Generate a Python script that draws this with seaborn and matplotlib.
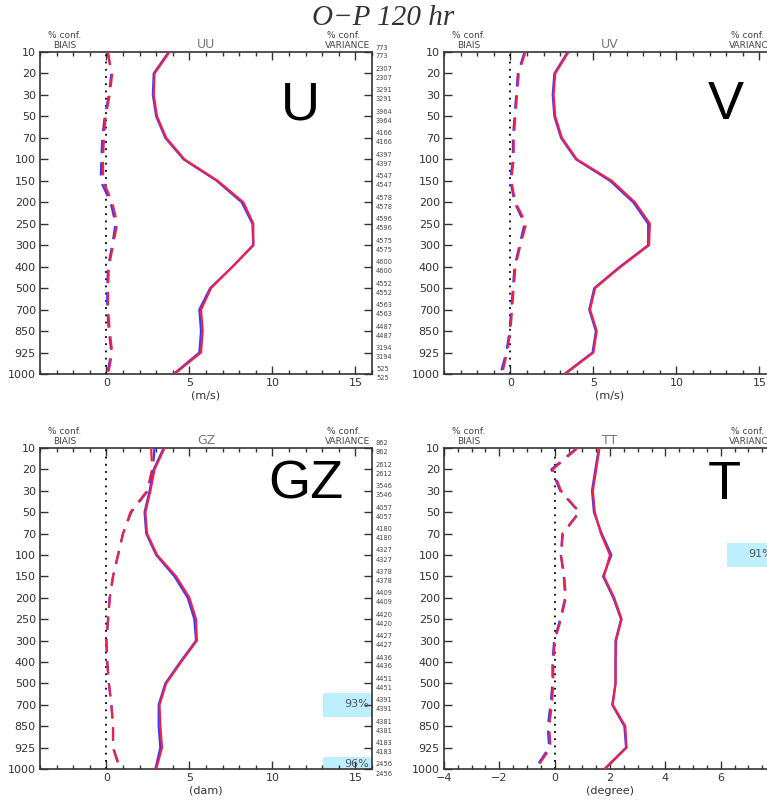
import numpy as np
import pandas as pd
import matplotlib
matplotlib.use("Agg")
import matplotlib.pyplot as plt
import matplotlib.transforms as mtransforms
from matplotlib.ticker import MultipleLocator
from matplotlib.patches import Rectangle
import seaborn as sns

# ---------------- data ----------------
levels = [10, 20, 30, 50, 70, 100, 150, 200, 250, 300, 400, 500, 700, 850, 925, 1000]

uu_std_blue = [3.75, 2.85, 2.8, 3.0, 3.55, 4.65, 6.65, 8.15, 8.8, 8.85, 7.6, 6.25, 5.6, 5.7, 5.6, 4.05]
uu_std_red = [3.8, 2.9, 2.85, 3.05, 3.6, 4.7, 6.7, 8.25, 8.85, 8.85, 7.6, 6.3, 5.7, 5.8, 5.7, 4.1]
uu_bias_blue = [0.1, 0.3, 0.15, -0.1, -0.25, -0.3, -0.35, 0.25, 0.55, 0.35, 0.1, 0.05, 0.05, 0.15, 0.3, 0.05]
uu_bias_red = [0.05, 0.35, 0.2, -0.05, -0.15, -0.2, -0.2, 0.35, 0.65, 0.4, 0.15, 0.1, 0.1, 0.2, 0.35, 0.1]
uu_counts = [773, 2307, 3291, 3964, 4166, 4397, 4547, 4578, 4596, 4575, 4600, 4552, 4563, 4487, 3194, 525]

uv_std_blue = [3.45, 2.65, 2.55, 2.65, 3.05, 3.95, 6.0, 7.4, 8.3, 8.3, 6.6, 5.05, 4.75, 5.15, 4.95, 3.25]
uv_std_red = [3.5, 2.7, 2.6, 2.7, 3.1, 4.0, 6.1, 7.5, 8.4, 8.35, 6.65, 5.1, 4.8, 5.2, 5.0, 3.3]
uv_bias_blue = [0.85, 0.45, 0.35, 0.25, 0.15, 0.15, 0.0, 0.25, 0.85, 0.55, 0.25, 0.15, 0.05, -0.05, -0.25, -0.6]
uv_bias_red = [0.9, 0.5, 0.4, 0.3, 0.2, 0.2, 0.05, 0.3, 0.95, 0.6, 0.3, 0.2, 0.1, 0.0, -0.2, -0.5]

gz_std_blue = [3.45, 2.85, 2.6, 2.3, 2.4, 3.0, 4.1, 4.9, 5.3, 5.4, 4.45, 3.55, 3.15, 3.15, 3.25, 2.95]
gz_std_red = [3.5, 2.9, 2.65, 2.35, 2.45, 3.05, 4.2, 5.0, 5.4, 5.45, 4.5, 3.6, 3.2, 3.25, 3.35, 3.0]
gz_bias_blue = [2.9, 2.8, 2.5, 1.5, 1.0, 0.7, 0.4, 0.2, 0.1, 0.0, 0.05, 0.15, 0.3, 0.4, 0.4, 0.8]
gz_bias_red = [2.7, 2.75, 2.45, 1.45, 1.0, 0.7, 0.4, 0.2, 0.1, 0.0, 0.05, 0.15, 0.3, 0.4, 0.4, 0.85]
gz_counts = [862, 2612, 3546, 4057, 4180, 4327, 4378, 4409, 4420, 4427, 4436, 4451, 4391, 4381, 4183, 2456]

tt_std_blue = [1.6, 1.47, 1.35, 1.42, 1.7, 2.05, 1.75, 2.12, 2.4, 2.2, 2.2, 2.2, 2.08, 2.52, 2.58, 1.8]
tt_std_red = [1.62, 1.5, 1.38, 1.45, 1.67, 2.0, 1.78, 2.15, 2.42, 2.22, 2.2, 2.2, 2.1, 2.55, 2.6, 1.82]
tt_bias_blue = [0.8, -0.12, 0.2, 0.88, 0.28, 0.22, 0.33, 0.38, 0.2, -0.02, -0.08, -0.08, -0.15, -0.25, -0.2, -0.72]
tt_bias_red = [0.83, -0.07, 0.23, 0.9, 0.3, 0.23, 0.35, 0.4, 0.23, 0.0, -0.05, -0.05, -0.1, -0.2, -0.15, -0.68]

gz_conf_levels = [700, 1000]
gz_conf_labels = ["93%", "96%"]
tt_conf_levels = [100]
tt_conf_labels = ["91%"]

# ---------------- style ----------------
sns.set_style("ticks")
plt.rcParams["font.family"] = ["DejaVu Sans"]
BLUE = "#3a3aff"
RED = "#f0204a"
GREY = "#444444"

W, H = 767, 802
fig = plt.figure(figsize=(W / 100, H / 100), dpi=100)


def rect(x0, y0, x1, y1):
    return [x0 / W, 1 - y1 / H, (x1 - x0) / W, (y1 - y0) / H]


panels = [
    dict(title="UU", big="U", r=rect(40, 52, 372, 374), xlim=(-4, 16), major=5, minor=1,
         xlabel="(m/s)", sb=uu_std_blue, sr=uu_std_red, bb=uu_bias_blue, br=uu_bias_red,
         counts=uu_counts, conf=([], []), bigpos=(0.783, 0.835)),
    dict(title="UV", big="V", r=rect(444, 52, 776, 374), xlim=(-4, 16), major=5, minor=1,
         xlabel="(m/s)", sb=uv_std_blue, sr=uv_std_red, bb=uv_bias_blue, br=uv_bias_red,
         counts=[], conf=([], []), bigpos=(0.849, 0.835)),
    dict(title="GZ", big="GZ", r=rect(40, 448, 372, 769), xlim=(-4, 16), major=5, minor=1,
         xlabel="(dam)", sb=gz_std_blue, sr=gz_std_red, bb=gz_bias_blue, br=gz_bias_red,
         counts=gz_counts, conf=(gz_conf_levels, gz_conf_labels), bigpos=(0.80, 0.885)),
    dict(title="TT", big="T", r=rect(444, 448, 776, 769), xlim=(-4, 8), major=2, minor=0.5,
         xlabel="(degree)", sb=tt_std_blue, sr=tt_std_red, bb=tt_bias_blue, br=tt_bias_red,
         counts=[], conf=(tt_conf_levels, tt_conf_labels), bigpos=(0.843, 0.885)),
]

idx = list(range(len(levels)))

for p in panels:
    ax = fig.add_axes(p["r"])
    df = pd.DataFrame({"lev": idx, "sb": p["sb"], "sr": p["sr"], "bb": p["bb"], "br": p["br"]})
    trans = mtransforms.blended_transform_factory(ax.transAxes, ax.transData)

    # confidence boxes
    for lev, lab in zip(*p["conf"]):
        i = levels.index(lev)
        ax.add_patch(Rectangle((0.853, i - 0.55), 0.147, 1.1, transform=trans,
                               facecolor="#bdefff", edgecolor="none", zorder=0, clip_on=True))
        yoff = -0.25 if i == len(levels) - 1 else -0.05
        ax.text(0.99, i + yoff, lab, transform=trans, ha="right", va="center",
                fontsize=8, color="#555555", clip_on=True, zorder=1)

    ax.axvline(0, color="black", linestyle=(0, (1, 3)), linewidth=1.3, zorder=2)

    for col, c, ls in [("bb", BLUE, (0, (6, 4))), ("br", RED, (0, (6, 4))),
                       ("sb", BLUE, "-"), ("sr", RED, "-")]:
        sns.lineplot(data=df, x=col, y="lev", orient="y", sort=False, estimator=None,
                     color=c, linestyle=ls, linewidth=1.6, ax=ax, legend=False, zorder=3)

    ax.set_ylim(len(levels) - 1, 0)
    ax.set_xlim(*p["xlim"])
    ax.set_yticks(idx)
    ax.set_yticklabels([str(l) for l in levels])
    ax.xaxis.set_major_locator(MultipleLocator(p["major"]))
    ax.xaxis.set_minor_locator(MultipleLocator(p["minor"]))
    ax.tick_params(axis="both", which="both", direction="in", top=True, right=True,
                   labelright=False, labeltop=False, colors="#333333", labelsize=8,
                   width=1.0)
    ax.tick_params(axis="both", which="major", length=6, pad=3)
    ax.tick_params(axis="x", which="minor", length=3)
    for s in ax.spines.values():
        s.set_color("#333333")
        s.set_linewidth(1.2)
    ax.set_xlabel(p["xlabel"], fontsize=8, color="#333333", labelpad=2)
    ax.set_ylabel("")

    # headers
    ax.text(0.075, 1.05, "% conf.", transform=ax.transAxes, ha="center", va="center",
            fontsize=6.5, color=GREY)
    ax.text(0.075, 1.019, "BIAIS", transform=ax.transAxes, ha="center", va="center",
            fontsize=6.5, color=GREY)
    ax.text(0.5, 1.022, p["title"], transform=ax.transAxes, ha="center", va="center",
            fontsize=9, color="#777777")
    ax.text(0.915, 1.05, "% conf.", transform=ax.transAxes, ha="center", va="center",
            fontsize=6.5, color=GREY)
    ax.text(0.993, 1.019, "VARIANCE", transform=ax.transAxes, ha="right", va="center",
            fontsize=6.5, color=GREY)

    # counts on the right
    up = mtransforms.offset_copy(trans, fig=fig, y=4.5, units="dots")
    dn = mtransforms.offset_copy(trans, fig=fig, y=-4.5, units="dots")
    for i, n in enumerate(p["counts"]):
        ax.text(1.012, i, str(n), transform=up, ha="left", va="center", fontsize=4.8, color=GREY)
        ax.text(1.012, i, str(n), transform=dn, ha="left", va="center", fontsize=4.8, color=GREY)

    # big panel letter
    ax.text(p["bigpos"][0], p["bigpos"][1], p["big"], transform=ax.transAxes, ha="center",
            va="center", fontsize=39, color="black", family="Liberation Sans")

fig.text(0.5, 1 - 18 / H, "O\u2212P 120 hr", ha="center", va="center", fontsize=21,
         style="italic", family="Liberation Serif", color="#333333")

fig.savefig("out.png", dpi=100)
